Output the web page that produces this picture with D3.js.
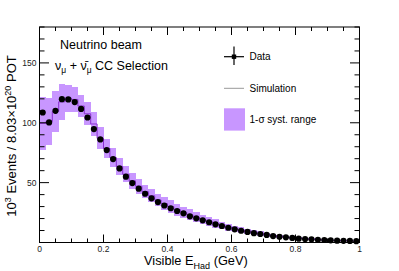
<!DOCTYPE html>
<html><head><meta charset="utf-8">
<script src="https://cdn.jsdelivr.net/npm/d3@7"></script>
<style>
html,body{margin:0;padding:0;background:#fff;}
text{font-family:"Liberation Sans",Arial,Helvetica,sans-serif;}
</style></head>
<body>
<svg id="c" width="399" height="271"></svg>
<script>
// Bin low edges (GeV), width 0.02
const binLow = [0,0.02,0.04,0.06,0.08,0.10,0.12,0.14,0.16,0.18,0.20,0.22,0.24,0.26,0.28,0.30,0.32,0.34,0.36,0.38,
  0.40,0.42,0.44,0.46,0.48,0.50,0.52,0.54,0.56,0.58,0.60,0.62,0.64,0.66,0.68,0.70,0.72,0.74,0.76,0.78,
  0.80,0.82,0.84,0.86,0.88,0.90,0.92,0.94,0.96,0.98];
const binWidth = 0.02;
// Data (10^3 events)
const dataVals = [108.6,100.3,110.0,119.7,119.5,117.3,111.6,104.4,94.7,86.1,77.2,69.7,61.9,55.0,49.6,45.0,40.7,36.9,33.8,30.9,
  28.6,26.3,24.4,21.9,20.2,18.5,16.9,15.2,13.8,12.3,11.0,9.8,8.8,7.8,7.1,6.3,5.4,4.8,4.3,3.8,
  3.2,2.9,2.7,2.3,2.1,1.8,1.5,1.4,1.3,1.1];
// Simulation
const simVals = [99.5,101,109.5,117.5,120.5,119.5,114,107.5,99,87,78.5,71,63.5,57,51.5,47,42.5,39,35.5,32.5,
  30,27.5,25.2,23,21,19.2,17.5,15.8,14.3,12.8,11.5,10.3,9.2,8.2,7.4,6.6,5.8,5.1,4.5,4.0,
  3.5,3.1,2.8,2.5,2.2,1.9,1.7,1.5,1.4,1.2];
// Fractional 1-sigma systematic
const systFrac = [0.22,0.195,0.154,0.127,0.094,0.087,0.08,0.09,0.098,0.105,0.105,0.11,0.115,0.12,0.125,0.13,0.135,0.14,0.15,0.16,
  0.17,0.18,0.19,0.2,0.2,0.21,0.21,0.22,0.22,0.23,0.23,0.24,0.24,0.25,0.25,0.25,0.25,0.25,0.25,0.25,
  0.25,0.25,0.25,0.25,0.25,0.25,0.25,0.25,0.25,0.25];
const xTicks = [0,0.2,0.4,0.6,0.8,1];
const xTickLabels = ["0","0.2","0.4","0.6","0.8","1"];
const yTicks = [50,100,150];

const svg = d3.select("#c");
const L=39.5, R=359.5, T=27, B=242.5;
const x = d3.scaleLinear().domain([0,1]).range([L,R]);
const y = d3.scaleLinear().domain([0,180]).range([B,T]);

const bandColor = "#c896ff";
const simColor = "#8a2fd0";

// systematic band
svg.append("g").selectAll("rect").data(binLow).join("rect")
  .attr("x", d=>x(d)).attr("width", (d)=>x(d+binWidth)-x(d))
  .attr("y", (d,i)=>y(simVals[i]*(1+systFrac[i])))
  .attr("height", (d,i)=>y(simVals[i]*(1-systFrac[i]))-y(simVals[i]*(1+systFrac[i])))
  .attr("fill", bandColor).attr("shape-rendering","crispEdges");

// simulation step line
const stepPts = binLow.map((d,i)=>[d, simVals[i]]);
stepPts.push([1, simVals[simVals.length-1]]);
svg.append("path").datum(stepPts)
  .attr("d", d3.line().x(d=>x(d[0])).y(d=>y(d[1])).curve(d3.curveStepAfter))
  .attr("fill","none").attr("stroke",simColor).attr("stroke-width",1);

// data points
svg.append("g").selectAll("circle").data(binLow).join("circle")
  .attr("cx", d=>x(d+binWidth/2)).attr("cy",(d,i)=>y(dataVals[i]))
  .attr("r",3.1).attr("fill","#000");

// axes
const ax = svg.append("g");
ax.append("rect").attr("x",L).attr("y",T).attr("width",R-L).attr("height",B-T)
  .attr("fill","none").attr("stroke","#000").attr("stroke-width",1);
// x ticks (bottom and top)
const xMinor = d3.range(0,1.0001,0.05);
xMinor.forEach(v=>{
  const major = Math.abs(v*5-Math.round(v*5))<1e-6;
  const len = major?8:4;
  ax.append("line").attr("x1",x(v)).attr("x2",x(v)).attr("y1",B).attr("y2",B-len).attr("stroke","#000");
  ax.append("line").attr("x1",x(v)).attr("x2",x(v)).attr("y1",T).attr("y2",T+len).attr("stroke","#000");
});
const yMinor = d3.range(0,180.001,10);
yMinor.forEach(v=>{
  const major = v%50===0;
  const len = major?9.5:5;
  ax.append("line").attr("x1",L).attr("x2",L+len).attr("y1",y(v)).attr("y2",y(v)).attr("stroke","#000");
  ax.append("line").attr("x1",R).attr("x2",R-len).attr("y1",y(v)).attr("y2",y(v)).attr("stroke","#000");
});
// tick labels
xTicks.forEach((v,i)=>{
  ax.append("text").attr("x",x(v)).attr("y",251.8).attr("text-anchor","middle")
    .attr("font-size",8.5).attr("fill","#222").text(xTickLabels[i]);
});
yTicks.forEach(v=>{
  ax.append("text").attr("x",36.5).attr("y",y(v)+3).attr("text-anchor","end")
    .attr("font-size",8.5).attr("fill","#222").text(v);
});

// axis titles
const yt = svg.append("text").attr("transform","translate(16,136) rotate(-90)")
  .attr("text-anchor","middle").attr("font-size",13);
yt.append("tspan").text("10");
yt.append("tspan").attr("font-size",9).attr("dy",-5).text("3");
yt.append("tspan").attr("dy",5).text(" Events / 8.03\u00d710");
yt.append("tspan").attr("font-size",9).attr("dy",-5).text("20");
yt.append("tspan").attr("dy",5).text(" POT");

const xt = svg.append("text").attr("x",144).attr("y",265.3).attr("font-size",12.8);
xt.append("tspan").text("Visible E");
xt.append("tspan").attr("font-size",9).attr("dy",3.5).text("Had");
xt.append("tspan").attr("dy",-3.5).text(" (GeV)");

// labels
svg.append("text").attr("x",60).attr("y",49).attr("font-size",12.5).text("Neutrino beam");
const sel = svg.append("text").attr("x",55).attr("y",70).attr("font-size",12.5);
sel.append("tspan").text("\u03bd");
sel.append("tspan").attr("font-size",8.5).attr("dy",2.5).text("\u03bc");
sel.append("tspan").attr("dy",-2.5).text(" + \u03bd\u0304");
sel.append("tspan").attr("font-size",8.5).attr("dy",2.5).text("\u03bc");
sel.append("tspan").attr("dy",-2.5).text(" CC Selection");

// legend
const lg = svg.append("g");
lg.append("line").attr("x1",224).attr("x2",244).attr("y1",56.7).attr("y2",56.7).attr("stroke","#000").attr("stroke-width",1.2);
lg.append("line").attr("x1",234).attr("x2",234).attr("y1",46.5).attr("y2",65).attr("stroke","#000").attr("stroke-width",1.2);
lg.append("rect").attr("x",231.8).attr("y",54.5).attr("width",4.4).attr("height",4.4).attr("fill","#000");
lg.append("text").attr("x",249.5).attr("y",60.3).attr("font-size",10).text("Data");
lg.append("line").attr("x1",224).attr("x2",244).attr("y1",88.3).attr("y2",88.3).attr("stroke","#999").attr("stroke-width",1);
lg.append("text").attr("x",249.5).attr("y",92).attr("font-size",10).text("Simulation");
lg.append("rect").attr("x",224).attr("y",108.3).attr("width",21).attr("height",22.3).attr("fill",bandColor);
lg.append("text").attr("x",249.5).attr("y",123).attr("font-size",10).text("1-\u03c3 syst. range");
</script>
</body></html>
